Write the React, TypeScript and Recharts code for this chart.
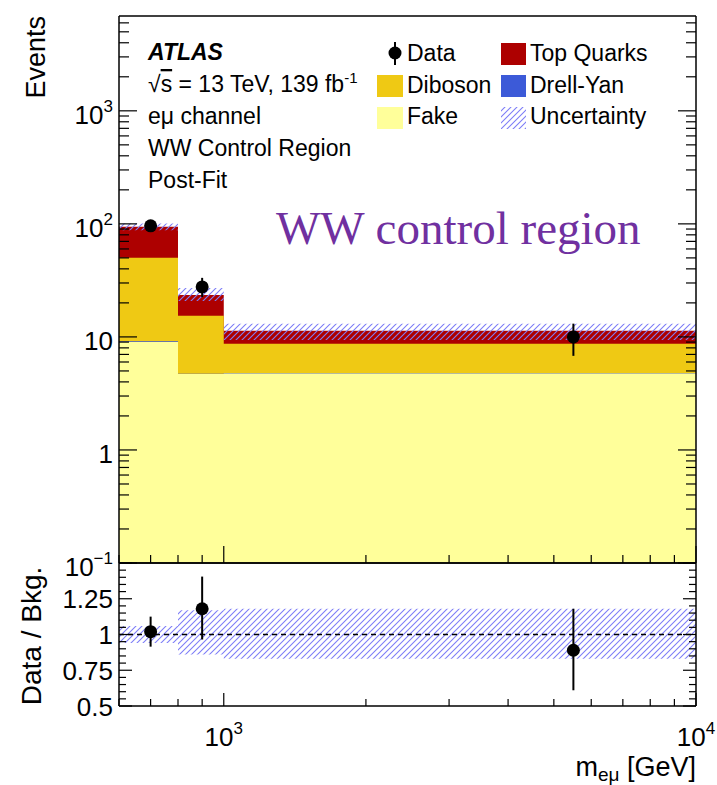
import React from 'react';
import { ComposedChart, Area, Scatter, XAxis, YAxis, ErrorBar, ReferenceLine } from 'recharts';

const FONT = '"Liberation Sans", Arial, Helvetica, sans-serif';

// ---- data ----
const binEdges = [600, 800, 1000, 10000];
const binCenters = [700, 900, 5500];
const fake = [9.0, 4.7, 4.75];
const drellYan = [0.15, 0.02, 0.02];
const diboson = [41.0, 10.7, 3.95];
const topQuarks = [44.0, 8.1, 2.6];
const uncLow = [88, 20.8, 9.4];
const uncHigh = [101, 27.1, 13.1];
const dataValues = [96, 27.7, 10.0];
const dataErrLow = [9.5, 5.2, 3.2];
const dataErrHigh = [10.3, 5.6, 3.1];
const ratioValues = [1.02, 1.18, 0.89];
const ratioErrLow = [0.105, 0.215, 0.28];
const ratioErrHigh = [0.105, 0.225, 0.29];
const ratioBandLow = [0.94, 0.86, 0.83];
const ratioBandHigh = [1.06, 1.17, 1.18];

// ---- axes / ticks ----
const X_DOMAIN = [600, 10000];
const Y_DOMAIN = [0.1, 6900];
const R_DOMAIN = [0.5, 1.5];
const xTickValues = [600, 700, 800, 900, 1000, 2000, 3000, 4000, 5000, 6000, 7000, 8000, 9000, 10000];
const xMajorTicks = [1000, 10000];
const xTickLabels: Record<string, [string, string]> = { '1000': ['10', '3'], '10000': ['10', '4'] };
const yMainDecades = [0.1, 1, 10, 100, 1000];
const yMainLabels: Record<string, [string, string]> = {
  '0.1': ['10', '\u22121'],
  '1': ['1', ''],
  '10': ['10', ''],
  '100': ['10', '2'],
  '1000': ['10', '3'],
};
const ratioMajorTicks = [0.5, 0.75, 1, 1.25, 1.5];
const ratioLabels: Record<string, string> = { '0.5': '0.5', '0.75': '0.75', '1': '1', '1.25': '1.25' };

const COLORS = {
  top: '#ad0000',
  diboson: '#efc914',
  dy: '#3c5ad8',
  fake: '#ffff9a',
  hatch: '#7d7df7',
  title: '#7030a0',
};

const mainYTicks: number[] = [];
yMainDecades.forEach((d) => {
  for (let m = 1; m <= 9; m++) {
    const v = +(d * m).toPrecision(6);
    if (v <= Y_DOMAIN[1]) mainYTicks.push(v);
  }
});
const ratioYTicks: number[] = [];
for (let k = 0; k <= 20; k++) ratioYTicks.push(Math.round((0.5 + 0.05 * k) * 100) / 100);

const nBins = binCenters.length;
const histRows = binEdges.map((x, i) => {
  const b = Math.min(i, nBins - 1);
  const f = fake[b];
  const fd = f + drellYan[b];
  const fdd = fd + diboson[b];
  const tot = fdd + topQuarks[b];
  return {
    x,
    fake: f,
    fakeDY: fd,
    withDiboson: fdd,
    total: tot,
    unc: [uncLow[b], uncHigh[b]],
    rband: [ratioBandLow[b], ratioBandHigh[b]],
  };
});
const dataRows = binCenters.map((x, i) => ({ x, y: dataValues[i], err: [dataErrLow[i], dataErrHigh[i]] }));
const ratioRows = binCenters.map((x, i) => ({ x, y: ratioValues[i], err: [ratioErrLow[i], ratioErrHigh[i]] }));

// ---- tick renderers (inward ticks, ROOT style) ----
const SW = 1.2;
const isXMajor = (v: number) => xMajorTicks.includes(v);

const MainLeftTick = (p: any) => {
  const v = p.payload.value;
  const major = yMainDecades.includes(v);
  const lab = yMainLabels[String(v)];
  return (
    <g>
      <line x1={p.x} x2={p.x + (major ? 18 : 10)} y1={p.y} y2={p.y} stroke="#000" strokeWidth={SW} />
      {lab && (
        <text x={p.x - 6} y={p.y + 13} textAnchor="end" fontSize={26} fontFamily={FONT} fill="#000">
          {lab[0]}
          {lab[1] && (
            <tspan dy={-12} fontSize={17}>
              {lab[1]}
            </tspan>
          )}
        </text>
      )}
    </g>
  );
};
const MainRightTick = (p: any) => {
  const v = p.payload.value;
  const major = yMainDecades.includes(v);
  return <line x1={p.x} x2={p.x - (major ? 18 : 10)} y1={p.y} y2={p.y} stroke="#000" strokeWidth={SW} />;
};
const MainBottomTick = (p: any) => {
  const major = isXMajor(p.payload.value);
  return <line x1={p.x} x2={p.x} y1={p.y} y2={p.y - (major ? 17 : 8)} stroke="#000" strokeWidth={SW} />;
};
const MainTopTick = (p: any) => {
  const major = isXMajor(p.payload.value);
  return <line x1={p.x} x2={p.x} y1={p.y} y2={p.y + (major ? 17 : 8)} stroke="#000" strokeWidth={SW} />;
};
const RatioLeftTick = (p: any) => {
  const v = p.payload.value;
  const major = ratioMajorTicks.includes(v);
  const lab = ratioLabels[String(v)];
  return (
    <g>
      <line x1={p.x} x2={p.x + (major ? 13 : 7)} y1={p.y} y2={p.y} stroke="#000" strokeWidth={SW} />
      {lab && (
        <text x={p.x - 6} y={p.y + 9.5} textAnchor="end" fontSize={26} fontFamily={FONT} fill="#000">
          {lab}
        </text>
      )}
    </g>
  );
};
const RatioRightTick = (p: any) => {
  const major = ratioMajorTicks.includes(p.payload.value);
  return <line x1={p.x} x2={p.x - (major ? 13 : 7)} y1={p.y} y2={p.y} stroke="#000" strokeWidth={SW} />;
};
const RatioBottomTick = (p: any) => {
  const v = p.payload.value;
  const major = isXMajor(v);
  const lab = xTickLabels[String(v)];
  return (
    <g>
      <line x1={p.x} x2={p.x} y1={p.y} y2={p.y - (major ? 13 : 7)} stroke="#000" strokeWidth={SW} />
      {lab && (
        <text x={p.x} y={p.y + 40} textAnchor="middle" fontSize={26} fontFamily={FONT} fill="#000">
          {lab[0]}
          <tspan dy={-12} fontSize={17}>
            {lab[1]}
          </tspan>
        </text>
      )}
    </g>
  );
};
const RatioTopTick = (p: any) => {
  const major = isXMajor(p.payload.value);
  return <line x1={p.x} x2={p.x} y1={p.y} y2={p.y + (major ? 13 : 7)} stroke="#000" strokeWidth={SW} />;
};

const DataDot = (p: any) => <circle cx={p.cx} cy={p.cy} r={6.5} fill="#000" />;

const AXIS_LINE = { stroke: '#000', strokeWidth: 1.5 };

const Hatch = ({ id }: { id: string }) => (
  <pattern id={id} patternUnits="userSpaceOnUse" width={6} height={6}>
    <path d="M-1,1 l2,-2 M0,6 l6,-6 M5,7 l2,-2" stroke={COLORS.hatch} strokeWidth={1.1} />
  </pattern>
);

const txt = { fontFamily: FONT, fill: '#000' } as const;

export default function App() {
  return (
    <div style={{ position: 'absolute', left: 0, top: 0, width: 717, height: 785, background: '#fff' }}>
      {/* Main panel */}
      <div style={{ position: 'absolute', left: 0, top: 0 }}>
        <ComposedChart width={717} height={600} data={histRows} margin={{ top: 15, right: 20, bottom: 36, left: 19 }}>
          <defs>
            <Hatch id="hatchMain" />
          </defs>
          <XAxis
            xAxisId="x"
            dataKey="x"
            type="number"
            scale="log"
            domain={X_DOMAIN}
            allowDataOverflow
            ticks={xTickValues}
            interval={0}
            height={1}
            tickSize={0}
            tickMargin={0}
            tickLine={false}
            tick={MainBottomTick}
            axisLine={AXIS_LINE}
          />
          <XAxis
            xAxisId="xTop"
            orientation="top"
            type="number"
            scale="log"
            domain={X_DOMAIN}
            allowDataOverflow
            ticks={xTickValues}
            interval={0}
            height={1}
            tickSize={0}
            tickMargin={0}
            tickLine={false}
            tick={MainTopTick}
            axisLine={AXIS_LINE}
          />
          <YAxis
            yAxisId="y"
            type="number"
            scale="log"
            domain={Y_DOMAIN}
            allowDataOverflow
            ticks={mainYTicks}
            interval={0}
            width={100}
            tickSize={0}
            tickMargin={0}
            tickLine={false}
            tick={MainLeftTick}
            axisLine={AXIS_LINE}
          />
          <YAxis
            yAxisId="yR"
            orientation="right"
            type="number"
            scale="log"
            domain={Y_DOMAIN}
            allowDataOverflow
            ticks={mainYTicks}
            interval={0}
            width={1}
            tickSize={0}
            tickMargin={0}
            tickLine={false}
            tick={MainRightTick}
            axisLine={AXIS_LINE}
          />
          <Area xAxisId="x" yAxisId="y" type="stepAfter" dataKey="total" baseValue={Y_DOMAIN[0]} fill={COLORS.top} fillOpacity={1} stroke="none" isAnimationActive={false} />
          <Area xAxisId="x" yAxisId="y" type="stepAfter" dataKey="withDiboson" baseValue={Y_DOMAIN[0]} fill={COLORS.diboson} fillOpacity={1} stroke="none" isAnimationActive={false} />
          <Area xAxisId="x" yAxisId="y" type="stepAfter" dataKey="fakeDY" baseValue={Y_DOMAIN[0]} fill={COLORS.dy} fillOpacity={1} stroke="none" isAnimationActive={false} />
          <Area xAxisId="x" yAxisId="y" type="stepAfter" dataKey="fake" baseValue={Y_DOMAIN[0]} fill={COLORS.fake} fillOpacity={1} stroke="none" isAnimationActive={false} />
          <Area xAxisId="x" yAxisId="y" type="stepAfter" dataKey="unc" fill="url(#hatchMain)" fillOpacity={1} stroke="none" isAnimationActive={false} />
          <Scatter xAxisId="x" yAxisId="y" data={dataRows} dataKey="y" shape={DataDot} isAnimationActive={false}>
            <ErrorBar dataKey="err" direction="y" width={0} stroke="#000" strokeWidth={2} isAnimationActive={false} />
          </Scatter>
        </ComposedChart>
      </div>

      {/* Ratio panel */}
      <div style={{ position: 'absolute', left: 0, top: 540 }}>
        <ComposedChart width={717} height={245} data={histRows} margin={{ top: 22, right: 20, bottom: 78, left: 19 }}>
          <defs>
            <Hatch id="hatchRatio" />
          </defs>
          <XAxis
            xAxisId="x"
            dataKey="x"
            type="number"
            scale="log"
            domain={X_DOMAIN}
            allowDataOverflow
            ticks={xTickValues}
            interval={0}
            height={1}
            tickSize={0}
            tickMargin={0}
            tickLine={false}
            tick={RatioBottomTick}
            axisLine={AXIS_LINE}
          />
          <XAxis
            xAxisId="xTop"
            orientation="top"
            type="number"
            scale="log"
            domain={X_DOMAIN}
            allowDataOverflow
            ticks={xTickValues}
            interval={0}
            height={1}
            tickSize={0}
            tickMargin={0}
            tickLine={false}
            tick={RatioTopTick}
            axisLine={AXIS_LINE}
          />
          <YAxis
            yAxisId="y"
            type="number"
            domain={R_DOMAIN}
            allowDataOverflow
            ticks={ratioYTicks}
            interval={0}
            width={100}
            tickSize={0}
            tickMargin={0}
            tickLine={false}
            tick={RatioLeftTick}
            axisLine={AXIS_LINE}
          />
          <YAxis
            yAxisId="yR"
            orientation="right"
            type="number"
            domain={R_DOMAIN}
            allowDataOverflow
            ticks={ratioYTicks}
            interval={0}
            width={1}
            tickSize={0}
            tickMargin={0}
            tickLine={false}
            tick={RatioRightTick}
            axisLine={AXIS_LINE}
          />
          <Area xAxisId="x" yAxisId="y" type="stepAfter" dataKey="rband" fill="url(#hatchRatio)" fillOpacity={1} stroke="none" isAnimationActive={false} />
          <ReferenceLine xAxisId="x" yAxisId="y" y={1} stroke="#000" strokeWidth={1.5} strokeDasharray="5 4" />
          <Scatter xAxisId="x" yAxisId="y" data={ratioRows} dataKey="y" shape={DataDot} isAnimationActive={false}>
            <ErrorBar dataKey="err" direction="y" width={0} stroke="#000" strokeWidth={2} isAnimationActive={false} />
          </Scatter>
        </ComposedChart>
      </div>

      {/* Labels, legend, annotations */}
      <svg width={717} height={785} style={{ position: 'absolute', left: 0, top: 0, pointerEvents: 'none' }}>
        <defs>
          <Hatch id="hatchLegend" />
        </defs>
        {/* axis titles */}
        <text transform="translate(45,16) rotate(-90)" textAnchor="end" fontSize={27} {...txt}>
          Events
        </text>
        <text transform="translate(41,636) rotate(-90)" textAnchor="middle" fontSize={28} {...txt}>
          Data / Bkg.
        </text>
        <text x={696} y={776} textAnchor="end" fontSize={27} {...txt}>
          m
          <tspan dy={5} fontSize={19}>
            eμ
          </tspan>
          <tspan dy={-5}> [GeV]</tspan>
        </text>

        {/* ATLAS label block */}
        <text x={148} y={60} fontSize={23} fontWeight="bold" fontStyle="italic" {...txt}>
          ATLAS
        </text>
        <text x={148} y={92} fontSize={23} {...txt}>
          √<tspan textDecoration="overline">s</tspan> = 13 TeV, 139 fb
          <tspan dy={-9} fontSize={15}>
            -1
          </tspan>
        </text>
        <text x={148} y={124} fontSize={23} {...txt}>
          eμ channel
        </text>
        <text x={148} y={156} fontSize={23} {...txt}>
          WW Control Region
        </text>
        <text x={148} y={188} fontSize={23} {...txt}>
          Post-Fit
        </text>

        {/* legend */}
        <line x1={395} x2={395} y1={42} y2={65} stroke="#000" strokeWidth={2} />
        <circle cx={395} cy={53} r={6.5} fill="#000" />
        <text x={407} y={61} fontSize={23} {...txt}>Data</text>
        <rect x={377} y={75} width={26} height={22} fill={COLORS.diboson} />
        <text x={407} y={93} fontSize={23} {...txt}>Diboson</text>
        <rect x={377} y={107} width={26} height={22} fill={COLORS.fake} />
        <text x={407} y={124} fontSize={23} {...txt}>Fake</text>
        <rect x={501} y={43} width={25} height={22} fill={COLORS.top} />
        <text x={530} y={61} fontSize={23} {...txt}>Top Quarks</text>
        <rect x={501} y={75} width={25} height={22} fill={COLORS.dy} />
        <text x={530} y={93} fontSize={23} {...txt}>Drell-Yan</text>
        <rect x={501} y={107} width={25} height={22} fill="url(#hatchLegend)" />
        <text x={530} y={124} fontSize={23} {...txt}>Uncertainty</text>

        {/* purple annotation */}
        <text x={276} y={244} fontSize={47} fontFamily='"Liberation Serif", "Times New Roman", serif' fill={COLORS.title}>
          WW control region
        </text>
      </svg>
    </div>
  );
}
